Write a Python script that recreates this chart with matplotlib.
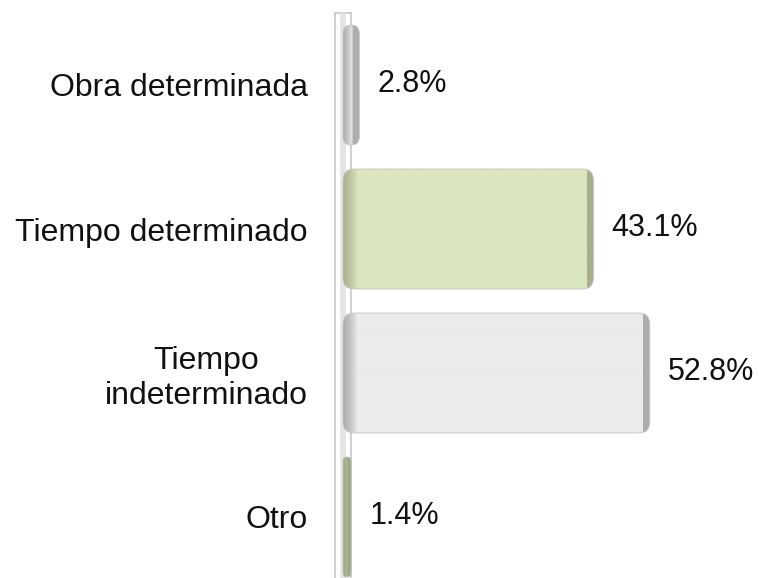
import numpy as np
import matplotlib
matplotlib.use("Agg")
import matplotlib.pyplot as plt
from matplotlib.patches import FancyBboxPatch
from matplotlib.colors import to_rgb

plt.rcParams['font.family'] = ['Liberation Sans', 'DejaVu Sans']

categories = ["Obra determinada", "Tiempo determinado", "Tiempo\nindeterminado", "Otro"]
values = [2.8, 43.1, 52.8, 1.4]
value_labels = ["2.8%", "43.1%", "52.8%", "1.4%"]
base_colors = ["#e6e6e6", "#dae6be", "#ebebeb", "#b4c49c"]
edge_colors = ["#acacac", "#a4ae8c", "#a9a9a9", "#9aa886"]

W, H = 759, 578
fig = plt.figure(figsize=(W / 100, H / 100), dpi=100)
ax_left_px, zero_px, px_per_unit = 335, 343, 5.81
top_px = 13
ax = fig.add_axes([ax_left_px / W, 0, 1 - ax_left_px / W, 1 - top_px / H])

xmin = (ax_left_px - zero_px) / px_per_unit
xmax = (W - zero_px) / px_per_unit
row_px = 144
first_center_px = 85
ymin_data = (H - first_center_px) / row_px
ymax_data = (top_px - first_center_px) / row_px
ax.set_xlim(xmin, xmax)
ax.set_ylim(ymin_data, ymax_data)

bar_h = 120 / row_px
aspect = (1 / row_px) / (1 / px_per_unit)

ypos = np.arange(len(categories))
bars = ax.barh(ypos, values, height=bar_h, color="none", edgecolor="none")

# wall (3D axis)
wall_x = -xmin
ax.plot([xmin, xmin], [ymax_data, ymin_data], color="#c8c8c8", lw=1.2, clip_on=False, zorder=1)
ax.plot([wall_x, wall_x], [ymax_data, ymin_data], color="#c8c8c8", lw=1.2, clip_on=False, zorder=1)
ax.plot([xmin, wall_x], [ymax_data, ymax_data], color="#c8c8c8", lw=1.2, clip_on=False, zorder=1)
ax.plot([0, 0], [ymax_data, ymin_data], color="#e4e4e4", lw=4, zorder=1, solid_capstyle="butt")

for b, base, edge in zip(bars, base_colors, edge_colors):
    x0, y0, w, h = b.get_x(), b.get_y(), b.get_width(), b.get_height()
    r = min(11 / px_per_unit, w / 2)
    patch = FancyBboxPatch((x0, y0), w, h,
                           boxstyle=f"round,pad=0,rounding_size={r}",
                           mutation_aspect=aspect,
                           facecolor=base, edgecolor="none", zorder=2)
    ax.add_patch(patch)
    wpx = max(int(round(w * px_per_unit)), 2)
    cb = np.array(to_rgb(base))
    ce = np.array(to_rgb(edge))
    cols = np.tile(cb, (wpx, 1))
    left_n = min(14, wpx // 2)
    right_n = min(7, wpx // 2)
    for k in range(left_n):
        t = (1 - k / left_n) ** 0.8
        cols[k] = cb * (1 - 0.95 * t) + ce * 0.95 * t
    for k in range(right_n):
        cols[wpx - 1 - k] = ce * 0.95 + cb * 0.05
    img = cols[np.newaxis, :, :]
    im = ax.imshow(img, extent=(x0, x0 + w, y0 + h, y0), aspect="auto",
                   interpolation="bilinear", zorder=3)
    im.set_clip_path(patch)
    outline = FancyBboxPatch((x0, y0), w, h,
                             boxstyle=f"round,pad=0,rounding_size={r}",
                             mutation_aspect=aspect,
                             facecolor="none", edgecolor="#c4c4c4", lw=0.6, zorder=4)
    ax.add_patch(outline)

for b, lab in zip(bars, value_labels):
    ax.annotate(lab, (b.get_width(), b.get_y() + b.get_height() / 2),
                xytext=(13, 1), textcoords="offset points",
                ha="left", va="center", fontsize=22, color="#111111")

ax.set_xlim(xmin, xmax)
ax.set_ylim(ymin_data, ymax_data)
ax.set_yticks(ypos)
ax.set_yticklabels(categories, fontsize=23, color="#111111", multialignment="center")
ax.tick_params(axis="y", length=0, pad=19.5)
ax.set_xticks([])
for s in ax.spines.values():
    s.set_visible(False)
ax.patch.set_alpha(0)

fig.savefig("out.png", dpi=100)
